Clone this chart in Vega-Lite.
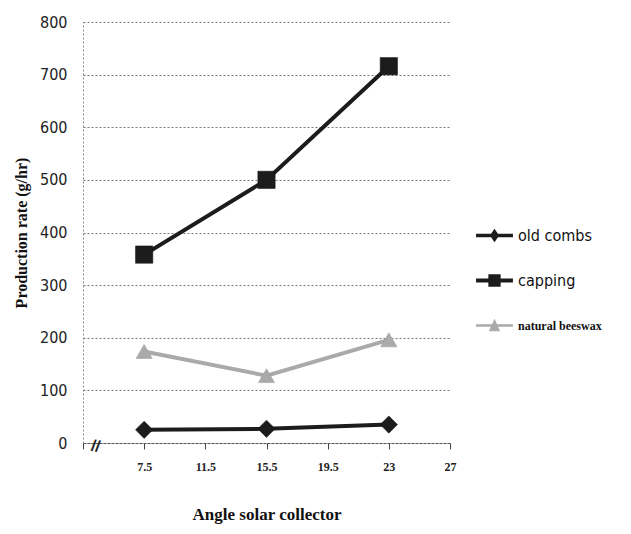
{
  "$schema": "https://vega.github.io/schema/vega-lite/v6.json",
  "autosize": "none",
  "width": 367,
  "height": 421,
  "padding": {"left": 83, "top": 22, "right": 181, "bottom": 91},
  "background": "white",
  "config": {"view": {"stroke": null}},
  "data": {"values": [
    {"series": "old combs", "angle": "7.5", "value": 25},
    {"series": "old combs", "angle": "15.5", "value": 27},
    {"series": "old combs", "angle": "23", "value": 35},
    {"series": "capping", "angle": "7.5", "value": 358},
    {"series": "capping", "angle": "15.5", "value": 500},
    {"series": "capping", "angle": "23", "value": 716},
    {"series": "natural beeswax", "angle": "7.5", "value": 174},
    {"series": "natural beeswax", "angle": "15.5", "value": 128},
    {"series": "natural beeswax", "angle": "23", "value": 196}
  ]},
  "encoding": {
    "x": {
      "field": "angle", "type": "ordinal",
      "scale": {"type": "point", "domain": ["", "7.5", "11.5", "15.5", "19.5", "23", "27"], "padding": 0},
      "axis": {
        "title": "Angle solar collector",
        "titleFont": "Liberation Serif", "titleFontSize": 17, "titleFontWeight": "bold", "titleColor": "#111",
        "titlePadding": 34,
        "labelFont": "Liberation Serif", "labelFontSize": 12, "labelFontWeight": "bold", "labelColor": "#222",
        "labelPadding": 12, "labelAngle": 0,
        "tickSize": 6, "tickColor": "#444",
        "domainColor": "#555", "domainDash": [3, 1], "domainWidth": 1.2,
        "grid": false
      }
    },
    "y": {
      "field": "value", "type": "quantitative",
      "scale": {"domain": [0, 800], "nice": false},
      "axis": {
        "title": "Production rate (g/hr)",
        "titleFont": "Liberation Serif", "titleFontSize": 16, "titleFontWeight": "bold", "titleColor": "#111",
        "titlePadding": 10,
        "labelFont": "DejaVu Sans Condensed, Roboto, sans-serif", "labelFontSize": 16, "labelColor": "#222",
        "labelPadding": 16,
        "values": [0, 100, 200, 300, 400, 500, 600, 700, 800],
        "ticks": false,
        "domainColor": "#888", "domainDash": [2, 2],
        "grid": true, "gridColor": "#777", "gridDash": [2, 2], "gridWidth": 1
      }
    },
    "color": {"field": "series", "type": "nominal",
      "scale": {"domain": ["old combs", "capping", "natural beeswax"], "range": ["#1c1c1c", "#1c1c1c", "#aaaaaa"]},
      "legend": {
        "title": null, "orient": "none", "legendX": 401, "legendY": 203,
        "symbolSize": 420, "rowPadding": 26, "labelOffset": 13,
        "labelFont": "DejaVu Sans Condensed, Roboto, sans-serif", "labelFontSize": 16, "labelColor": "#111",
        "encode": {
          "symbols": {"update": {
            "shape": {"signal": "datum.value == 'old combs' ? 'M-1.8,-0.17H1.8V0.17H-1.8Z M0,-0.65L0.45,0L0,0.65L-0.45,0Z' : datum.value == 'capping' ? 'M-1.8,-0.2H1.8V0.2H-1.8Z M-0.6,-0.6H0.6V0.6H-0.6Z' : 'M-1.8,-0.12H1.8V0.12H-1.8Z M0,-0.65L0.55,0.55H-0.55Z'"},
            "strokeWidth": {"value": 0},
            "fillOpacity": {"value": 1}
          }},
          "labels": {"update": {
            "font": {"signal": "datum.value == 'natural beeswax' ? 'Liberation Serif' : 'DejaVu Sans Condensed, Roboto, sans-serif'"},
            "fontSize": {"signal": "datum.value == 'natural beeswax' ? 12 : 16"},
            "fontWeight": {"signal": "datum.value == 'natural beeswax' ? 'bold' : 'normal'"}
          }}
        }
      }
    }
  },
  "layer": [
    {
      "mark": {"type": "line", "strokeWidth": 4}
    },
    {
      "transform": [{"filter": "datum.series == 'old combs'"}],
      "mark": {"type": "point", "shape": "diamond", "filled": true, "opacity": 1, "size": 300, "stroke": "#111", "strokeWidth": 0.5}
    },
    {
      "transform": [{"filter": "datum.series == 'capping'"}],
      "mark": {"type": "point", "shape": "square", "filled": true, "opacity": 1, "size": 300, "stroke": "#111", "strokeWidth": 0.5}
    },
    {
      "transform": [{"filter": "datum.series == 'natural beeswax'"}],
      "mark": {"type": "point", "shape": "triangle-up", "filled": true, "opacity": 1, "size": 260, "stroke": "#999", "strokeWidth": 0.5}
    },
    {
      "data": {"values": [{"angle": "", "value": 0, "label": "//"}]},
      "mark": {"type": "text", "dx": 13, "dy": 1, "fontSize": 16, "fontWeight": "bold", "font": "Liberation Sans", "color": "#222", "angle": 10},
      "encoding": {
        "color": {"value": "#222"},
        "text": {"field": "label"}
      }
    }
  ]
}
